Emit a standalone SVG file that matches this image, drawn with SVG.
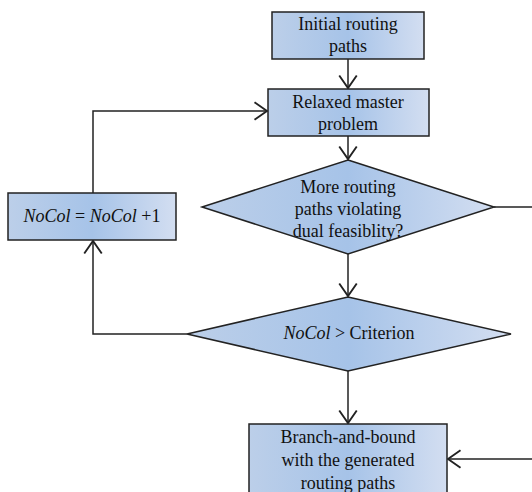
<svg xmlns="http://www.w3.org/2000/svg" width="532" height="492" viewBox="0 0 532 492">
<defs>
<linearGradient id="g" x1="0" y1="0" x2="1" y2="0">
<stop offset="0" stop-color="#bccfe9"/>
<stop offset="0.5" stop-color="#a6c3e8"/>
<stop offset="1" stop-color="#d3def1"/>
</linearGradient>
<marker id="a" markerWidth="20" markerHeight="20" viewBox="-12 -8 14 16" refX="0" refY="0" orient="auto" markerUnits="userSpaceOnUse">
<path d="M-10,-7 L0,0 L-10,7" fill="none" stroke="#222" stroke-width="1.5"/>
</marker>
<style>
.n{fill:url(#g);stroke:#222;stroke-width:1.5}
.c{fill:none;stroke:#222;stroke-width:1.5}
text{font-family:"Liberation Serif","Times New Roman",serif;font-size:18px;fill:#111;text-anchor:middle}
.i{font-style:italic}
</style>
</defs>
<g id="connectors">
<path class="c" d="M348,59 V88" marker-end="url(#a)"/>
<path class="c" d="M348,136 V159" marker-end="url(#a)"/>
<path class="c" d="M348,254 V296" marker-end="url(#a)"/>
<path class="c" d="M348,371 V423" marker-end="url(#a)"/>
<path class="c" d="M494,207 H532"/>
<path class="c" d="M532,459 H448" marker-end="url(#a)"/>
<path class="c" d="M93,193 V111 H267" marker-end="url(#a)"/>
<path class="c" d="M187,334 H93 V241" marker-end="url(#a)"/>
</g>
<g id="initial">
<rect class="n" x="272" y="12" width="152" height="47"/>
<text x="348" y="30">Initial routing</text>
<text x="348" y="52">paths</text>
</g>
<g id="relaxed">
<rect class="n" x="268" y="89" width="161" height="47"/>
<text x="348" y="108">Relaxed master</text>
<text x="348" y="130">problem</text>
</g>
<g id="decision1">
<polygon class="n" points="348,160 494,207 348,254 202,207"/>
<text x="348" y="193">More routing</text>
<text x="348" y="215">paths violating</text>
<text x="348" y="237">dual feasiblity?</text>
</g>
<g id="nocol">
<rect class="n" x="8" y="193" width="168" height="47"/>
<text x="92" y="222"><tspan class="i">NoCol</tspan> = <tspan class="i">NoCol</tspan> +1</text>
</g>
<g id="decision2">
<polygon class="n" points="348,297 511,334 348,371 187,334"/>
<text x="349" y="339"><tspan class="i">NoCol</tspan> &gt; Criterion</text>
</g>
<g id="branch">
<rect class="n" x="249" y="424" width="198" height="80"/>
<text x="348" y="443">Branch-and-bound</text>
<text x="348" y="466">with the generated</text>
<text x="348" y="489">routing paths</text>
</g>
</svg>
